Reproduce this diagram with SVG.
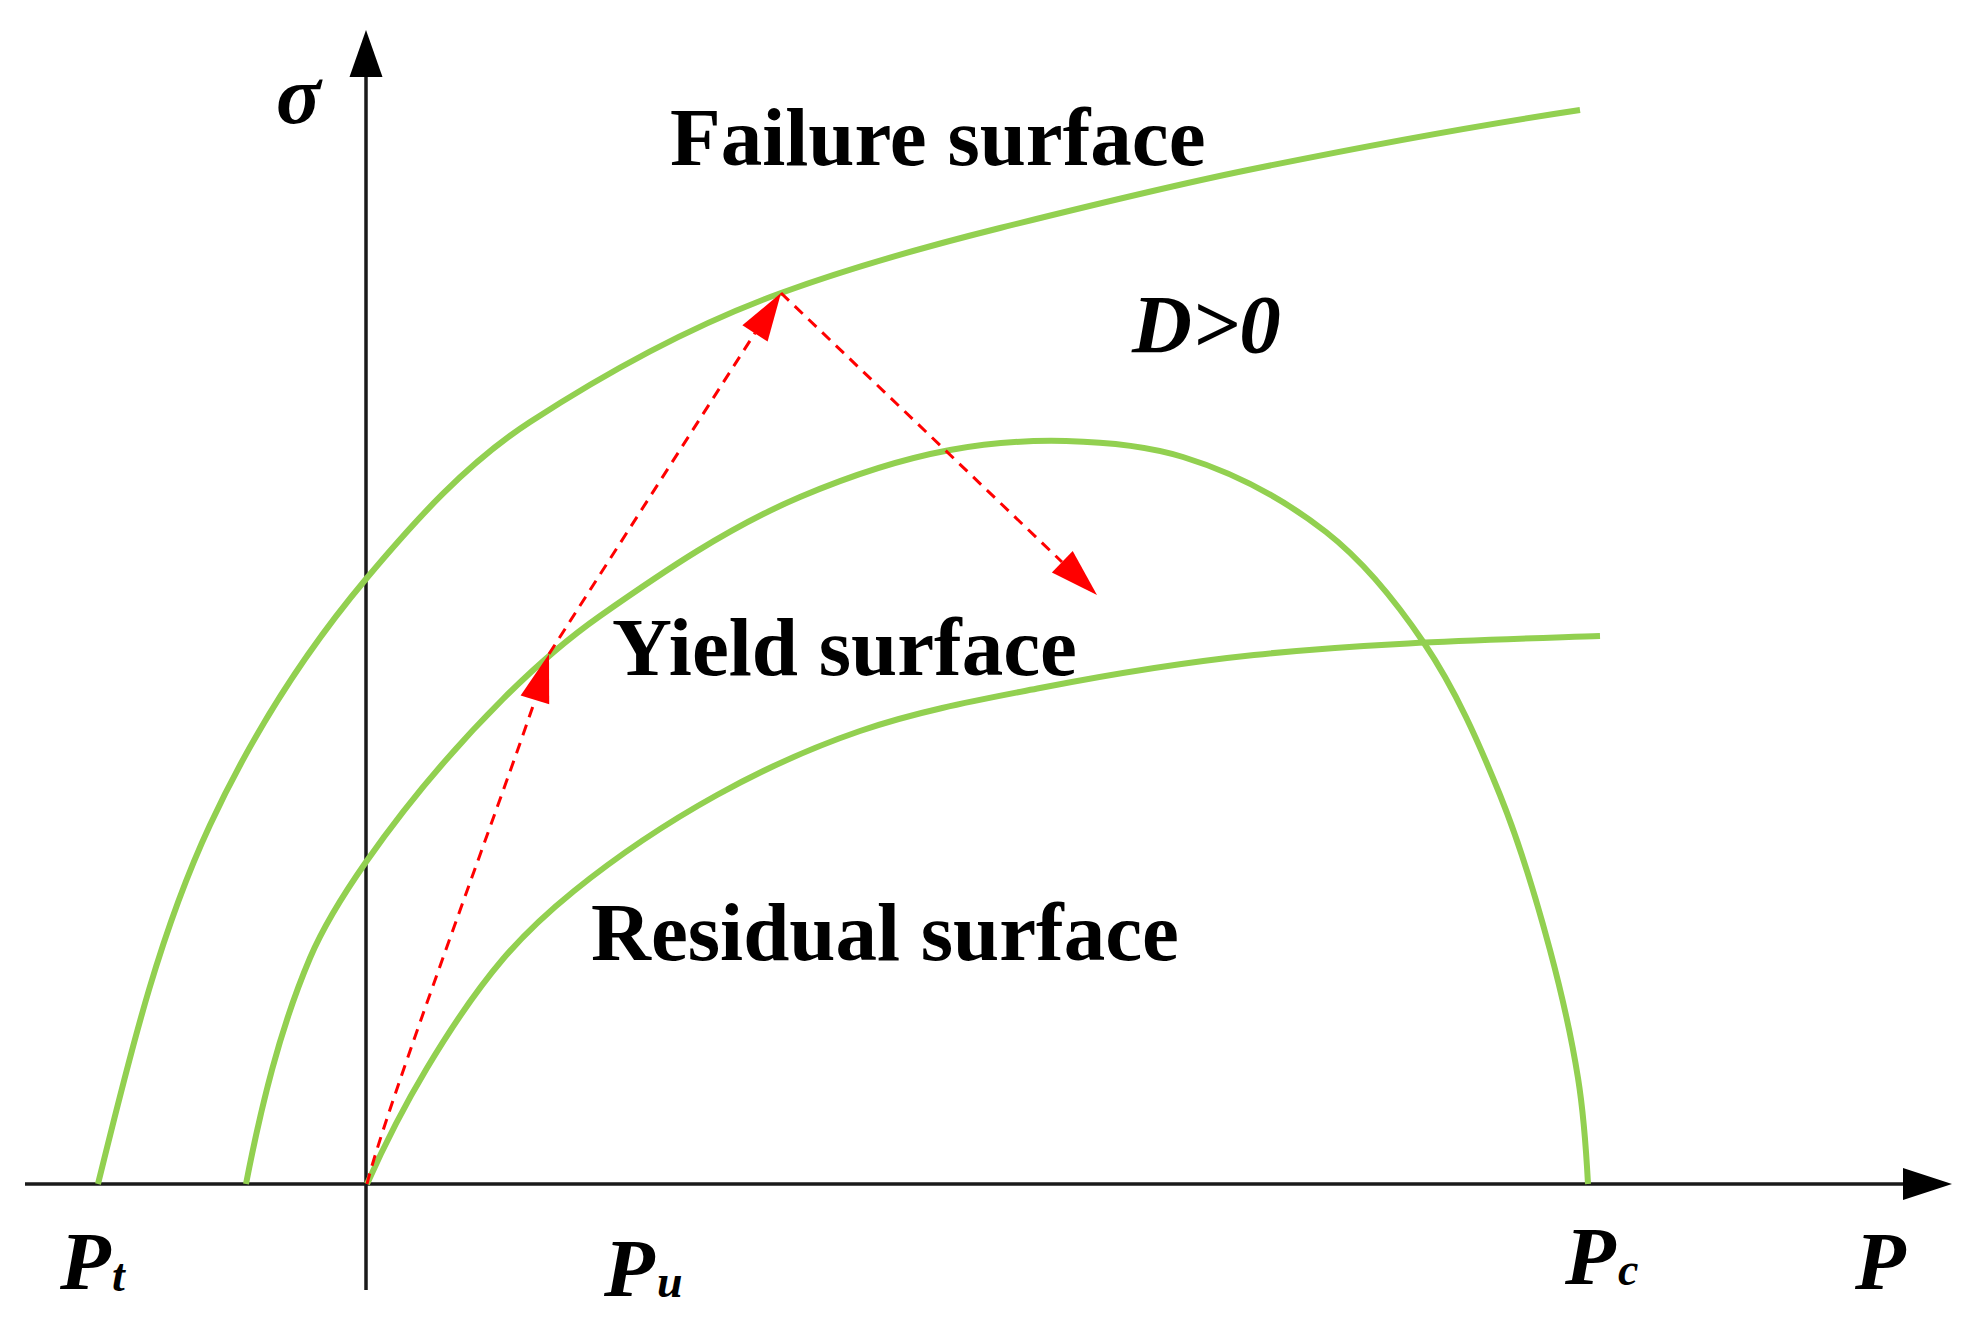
<svg xmlns="http://www.w3.org/2000/svg" width="1979" height="1324" viewBox="0 0 1979 1324">
<style>
.axis{stroke:#1a1a1a;stroke-width:3.5;fill:none}
.head{fill:#000}
.curve{stroke:#92D050;stroke-width:6;fill:none;stroke-linecap:butt}
.dash{stroke:#FF0000;stroke-width:3;fill:none;stroke-dasharray:11 8}
.rhead{fill:#FF0000}
.lbl{font-family:"Liberation Serif","Times New Roman",serif;font-weight:bold;font-size:83px;fill:#000}
.it{font-style:italic}
.sub{font-size:46px}
</style>
<rect width="1979" height="1324" fill="#fff"/>
<g id="axes">
<line class="axis" x1="366" y1="70" x2="366" y2="1290"/>
<polygon class="head" points="366,30 349.5,77 382.5,77"/>
<line class="axis" x1="25" y1="1184" x2="1910" y2="1184"/>
<polygon class="head" points="1952,1184 1903,1168 1903,1200"/>
</g>
<g id="failure-surface">
<path class="curve" d="M98,1184 C128.2,1062.7 157.2,938.3 210,825 C251,737.1 303.6,653.3 366,579 C414.9,520.8 466.3,463.4 530,422 C608.8,370.8 692.7,325.1 781,293 C852.4,267 926.3,246.4 1000,228 C1082.5,207.4 1164.7,187.1 1248,170 C1357.6,147.5 1469.2,126.6 1580,110"/>
</g>
<g id="yield-surface">
<path class="curve" d="M246,1184 C260.9,1107.4 279.5,1029.8 310,958 C324.5,923.9 344.8,892.3 366,862 C406.7,803.8 452.8,749.2 503,699 C533.4,668.6 564.8,640.7 600,616 C663.9,571.3 728.2,527.5 800,497 C847.9,476.7 898.9,459.5 950,450 C988.3,442.9 1027,440 1066,441 C1105,442 1145.7,445.6 1183,457 C1234.6,472.8 1283.4,498.8 1326,532 C1364.6,562.2 1396.6,602.4 1424,643 C1455.9,690.3 1478.6,742.2 1500,795 C1520.2,845.1 1536,897.8 1550,950 C1561.4,992.5 1571.1,1034.5 1578,1078 C1583.6,1113.1 1586.1,1148.5 1588,1184"/>
</g>
<g id="residual-surface">
<path class="curve" d="M367,1184 C384.7,1144.3 404.6,1105.3 427,1068 C449.8,1030 474.2,992.7 503,959 C524.3,934.1 548.5,911.6 574,891 C618.6,854.9 666.8,822.8 717,795 C762.7,769.7 810.6,748 860,731 C918.3,710.9 979.4,699.8 1040,688 C1110.9,674.2 1182.2,662.5 1254,655 C1368.9,642.9 1484.6,640 1600,636"/>
</g>
<g id="connectors">
<path class="dash" d="M367,1184 C385,1110 505,790 535,700"/>
<polygon class="rhead" points="549,654 549.2,704.3 520.6,695.5"/>
<path class="dash" d="M549,654 L755,333"/>
<polygon class="rhead" points="781,293 767.6,341.5 742.4,325.3"/>
<path class="dash" d="M781,293 L1062,562"/>
<polygon class="rhead" points="1097,595 1051.9,572.6 1072.7,551"/>
</g>
<g id="labels">
<text class="lbl it" x="276" y="123">σ</text>
<text class="lbl" x="670" y="165">Failure surface</text>
<text class="lbl it" x="1132" y="352">D&gt;0</text>
<text class="lbl" x="612" y="675">Yield surface</text>
<text class="lbl" x="591" y="960">Residual surface</text>
<text class="lbl it" x="60" y="1289">P<tspan class="sub" x="112" y="1291">t</tspan></text>
<text class="lbl it" x="604" y="1296">P<tspan class="sub" x="657" y="1297">u</tspan></text>
<text class="lbl it" x="1565" y="1284">P<tspan class="sub" x="1618" y="1285">c</tspan></text>
<text class="lbl it" x="1855" y="1289">P</text>
</g>
</svg>
